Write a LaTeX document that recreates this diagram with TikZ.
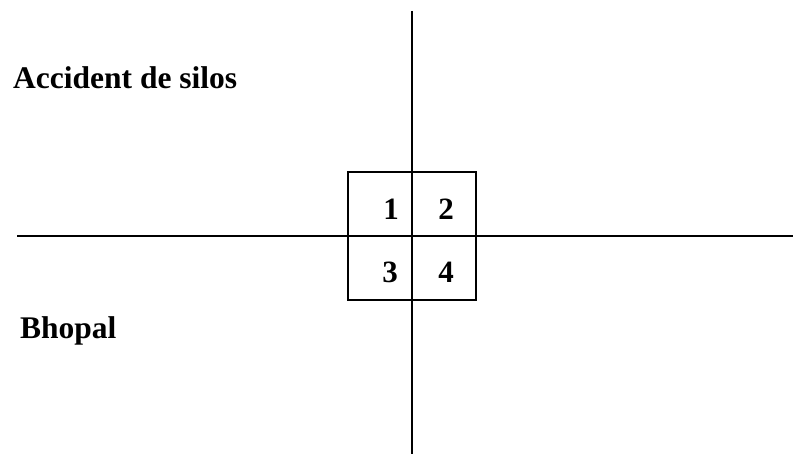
\documentclass[tikz,border=0pt]{standalone}
\usepackage{fontspec}
\setmainfont{Liberation Serif}
\begin{document}
\begin{tikzpicture}[x=1pt, y=-1pt,
 axis/.style={line width=1.6pt, black},
 quad/.style={rectangle, draw, line width=1.6pt, minimum width=128pt, minimum height=128pt, inner sep=0pt},
 num/.style={font=\fontsize{31}{33}\selectfont\bfseries, anchor=base, inner sep=0pt},
 lbl/.style={font=\fontsize{31.5}{33}\selectfont\bfseries, anchor=base west, inner sep=0pt},
]
\useasboundingbox (0,0) rectangle (793,454);
\coordinate (top) at (412,11);
\coordinate (bottom) at (412,454);
\coordinate (left) at (17,236);
\coordinate (right) at (793,236);
\node[quad] (box) at (412,236) {};
\draw[axis] (top) -- (bottom);
\draw[axis] (left) -- (right);
\node[num] (q1) at (391,220) {1};
\node[num] (q2) at (446,220) {2};
\node[num] (q3) at (390,283) {3};
\node[num] (q4) at (446,283) {4};
\node[lbl] (silos) at (13,89) {Accident de silos};
\node[lbl] (bhopal) at (20,339) {Bhopal};
\end{tikzpicture}
\end{document}
